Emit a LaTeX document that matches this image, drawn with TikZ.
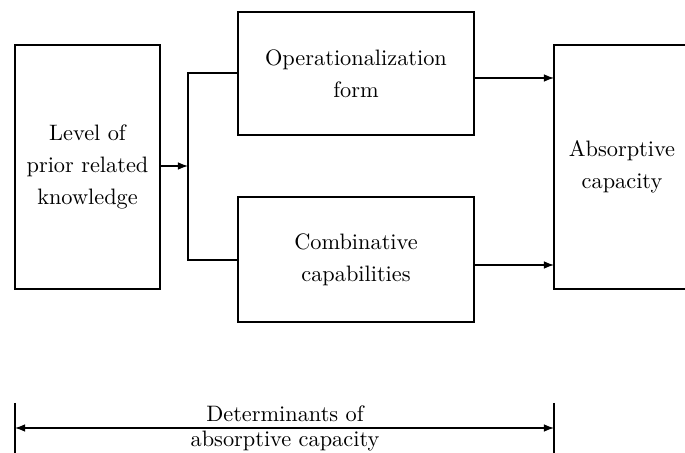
\documentclass[tikz,border=0pt]{standalone}
\usetikzlibrary{arrows.meta}
\begin{document}
\begin{tikzpicture}[x=0.448pt,y=-0.448pt,
  line width=0.55pt,
  boxtext/.style={align=center,font=\fontsize{10}{14.35}\selectfont,inner sep=0pt},
  arr/.style={-{Latex[length=4.5pt,width=3.4pt]}},
  darr/.style={{Latex[length=4.5pt,width=3.4pt]}-{Latex[length=4.5pt,width=3.4pt]}}]
\useasboundingbox (0,0) rectangle (685,453);
\clip (0,0) rectangle (685,453);
% boxes
\draw (15,45) rectangle (160,289);
\node[boxtext] (lvl) at (87.5,167) {Level of\\prior related\\knowledge};
\draw (238,12) rectangle (474,135);
\node[boxtext] (op) at (356,73.5) {Operationalization\\form};
\draw (238,197) rectangle (474,322);
\node[boxtext] (comb) at (356,259.5) {Combinative\\capabilities};
\draw (554,45) rectangle (700,289);
\node[boxtext] (abs) at (622,167) {Absorptive\\capacity};
% connector coordinates
\coordinate (lvlE) at (160,166);
\coordinate (split) at (188,166);
\coordinate (splitT) at (188,73);
\coordinate (splitB) at (188,260);
\coordinate (opW) at (238,73);
\coordinate (combW) at (238,260);
\coordinate (opE) at (474,78);
\coordinate (absT) at (554,78);
\coordinate (combE) at (474,265);
\coordinate (absB) at (554,265);
\draw[arr] (lvlE) -- (split);
\draw (opW) -- (splitT) -- (splitB) -- (combW);
\draw[arr] (opE) -- (absT);
\draw[arr] (combE) -- (absB);
% bottom span
\coordinate (barLt) at (15,403);
\coordinate (barLb) at (15,455);
\coordinate (barRt) at (554,403);
\coordinate (barRb) at (554,455);
\coordinate (spanL) at (15,428);
\coordinate (spanR) at (554,428);
\draw (barLt) -- (barLb);
\draw (barRt) -- (barRb);
\draw[darr] (spanL) -- (spanR);
\node[anchor=base,font=\fontsize{10}{12}\selectfont,inner sep=0pt] (det1) at (285,422) {Determinants of};
\node[anchor=base,font=\fontsize{10}{12}\selectfont,inner sep=0pt] (det2) at (285,447) {absorptive capacity};
\end{tikzpicture}
\end{document}
